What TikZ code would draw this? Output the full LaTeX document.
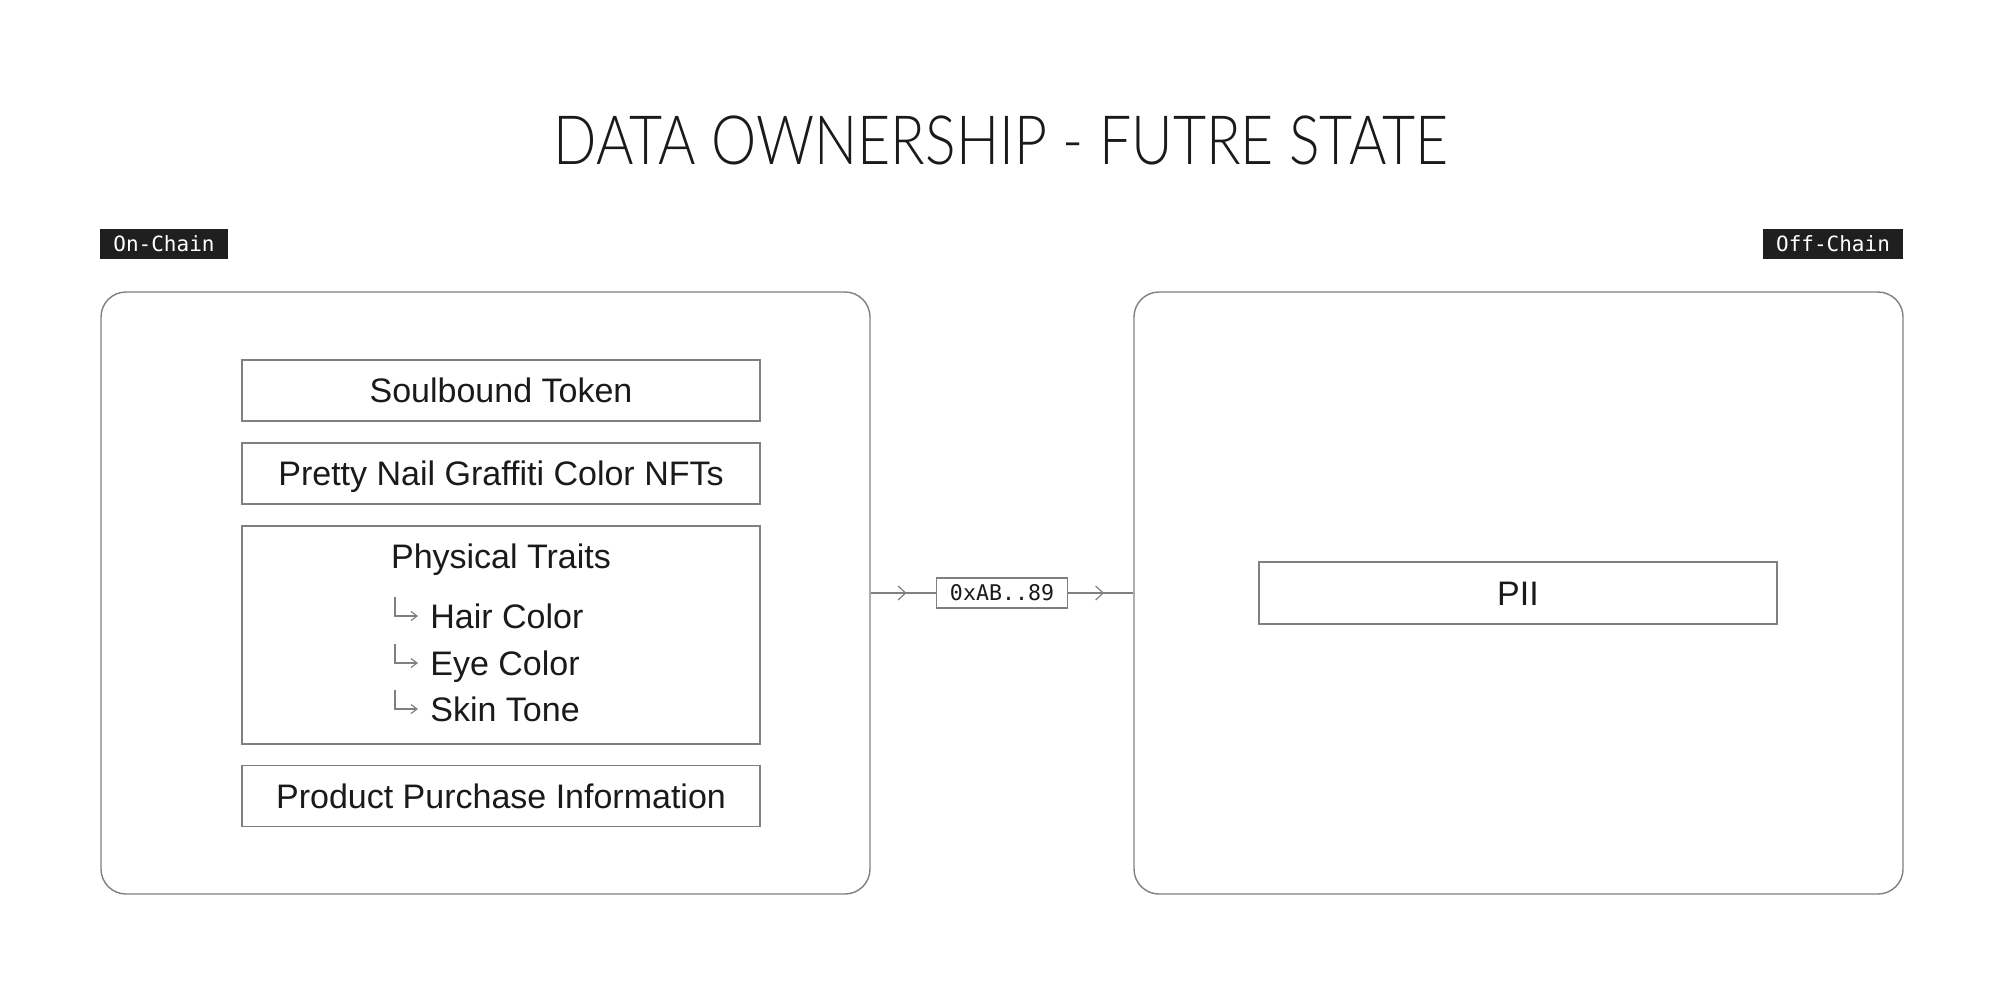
\documentclass[tikz,border=0pt]{standalone}
\usepackage{fontspec}
\setmainfont{Liberation Sans}
\newfontfamily\titlefont{Lato Light}
\newfontfamily\monofont{DejaVu Sans Mono}
\usetikzlibrary{arrows.meta,decorations.markings}
\definecolor{linegray}{HTML}{808080}
\definecolor{tagfill}{HTML}{1F1F1F}
\definecolor{ink}{HTML}{1A1A1A}
\begin{document}
\begin{tikzpicture}[x=0.5pt,y=-0.5pt,
  panel/.style={draw=linegray, line width=0.7pt, rounded corners=12.5pt,
    minimum width=384.5pt, minimum height=301pt, inner sep=0pt},
  itembox/.style={draw=linegray, line width=0.7pt, minimum width=259pt,
    minimum height=30.5pt, inner sep=0pt, text=ink,
    font=\fontsize{17pt}{20pt}\selectfont, text height=12.2pt, text depth=0pt},
  plain/.style={inner sep=0pt, text=ink,
    font=\fontsize{17pt}{20pt}\selectfont, text height=12.2pt, text depth=0pt},
  tag/.style={fill=tagfill, text=white, inner sep=0pt, minimum height=15pt,
    font=\monofont\fontsize{10.5pt}{12pt}\selectfont, text height=7.6pt, text depth=0pt},
  addrbox/.style={draw=linegray, line width=0.7pt, fill=white, inner sep=0pt,
    minimum width=65.5pt, minimum height=15pt, text=ink,
    font=\monofont\fontsize{10.8pt}{12pt}\selectfont, text height=7.8pt, text depth=0pt},
  hook/.style={draw=linegray, line width=0.6pt, -{Straight Barb[length=3pt,width=4.5pt]}},
  conn/.style={draw=linegray, line width=0.6pt, postaction={decorate},
    decoration={markings, mark=at position 0.55 with {\arrow{Straight Barb[length=3.75pt,width=7pt]}}}}
]
\useasboundingbox[fill=white] (0,0) rectangle (2000,1007);

% title
\node[inner sep=0pt, text=ink, font=\titlefont\fontsize{34pt}{40pt}\selectfont,
  text height=24.5pt, text depth=0pt] (title) at (1001,140) {\scalebox{0.84}[1]{DATA OWNERSHIP - FUTRE STATE}};

% tags
\node[tag, minimum width=64pt] (ontag) at (164,244) {On-Chain};
\node[tag, minimum width=70pt] (offtag) at (1833,244) {Off-Chain};

% panels
\node[panel] (onchain) at (485.5,593) {};
\node[panel] (offchain) at (1518.5,593) {};

% on-chain items
\node[itembox] (sbt) at (501,390.5) {Soulbound Token};
\node[itembox] (nfts) at (501,473.5) {Pretty Nail Graffiti Color NFTs};
\node[itembox, minimum height=109pt] (traits) at (501,635) {};
\node[plain] (ptitle) at (501,556) {Physical Traits};
\node[plain, anchor=west] (hair) at (430,616) {Hair Color};
\node[plain, anchor=west] (eye) at (430,663) {Eye Color};
\node[plain, anchor=west] (skin) at (430,709) {Skin Tone};
\node[itembox] (purchase) at (501,796) {Product Purchase Information};

\coordinate (hairh) at (395,597);
\coordinate (eyeh) at (395,644);
\coordinate (skinh) at (395,690);
\draw[hook] (hairh) |- ([xshift=-6pt]hair.west);
\draw[hook] (eyeh) |- ([xshift=-6pt]eye.west);
\draw[hook] (skinh) |- ([xshift=-6pt]skin.west);

% off-chain
\node[itembox, minimum height=31pt] (pii) at (1518,593) {PII};

% link
\node[addrbox] (addr) at (1002,593) {0xAB..89};
\draw[conn] (onchain.east) -- (addr.west);
\draw[conn] (addr.east) -- (offchain.west);
\end{tikzpicture}
\end{document}
